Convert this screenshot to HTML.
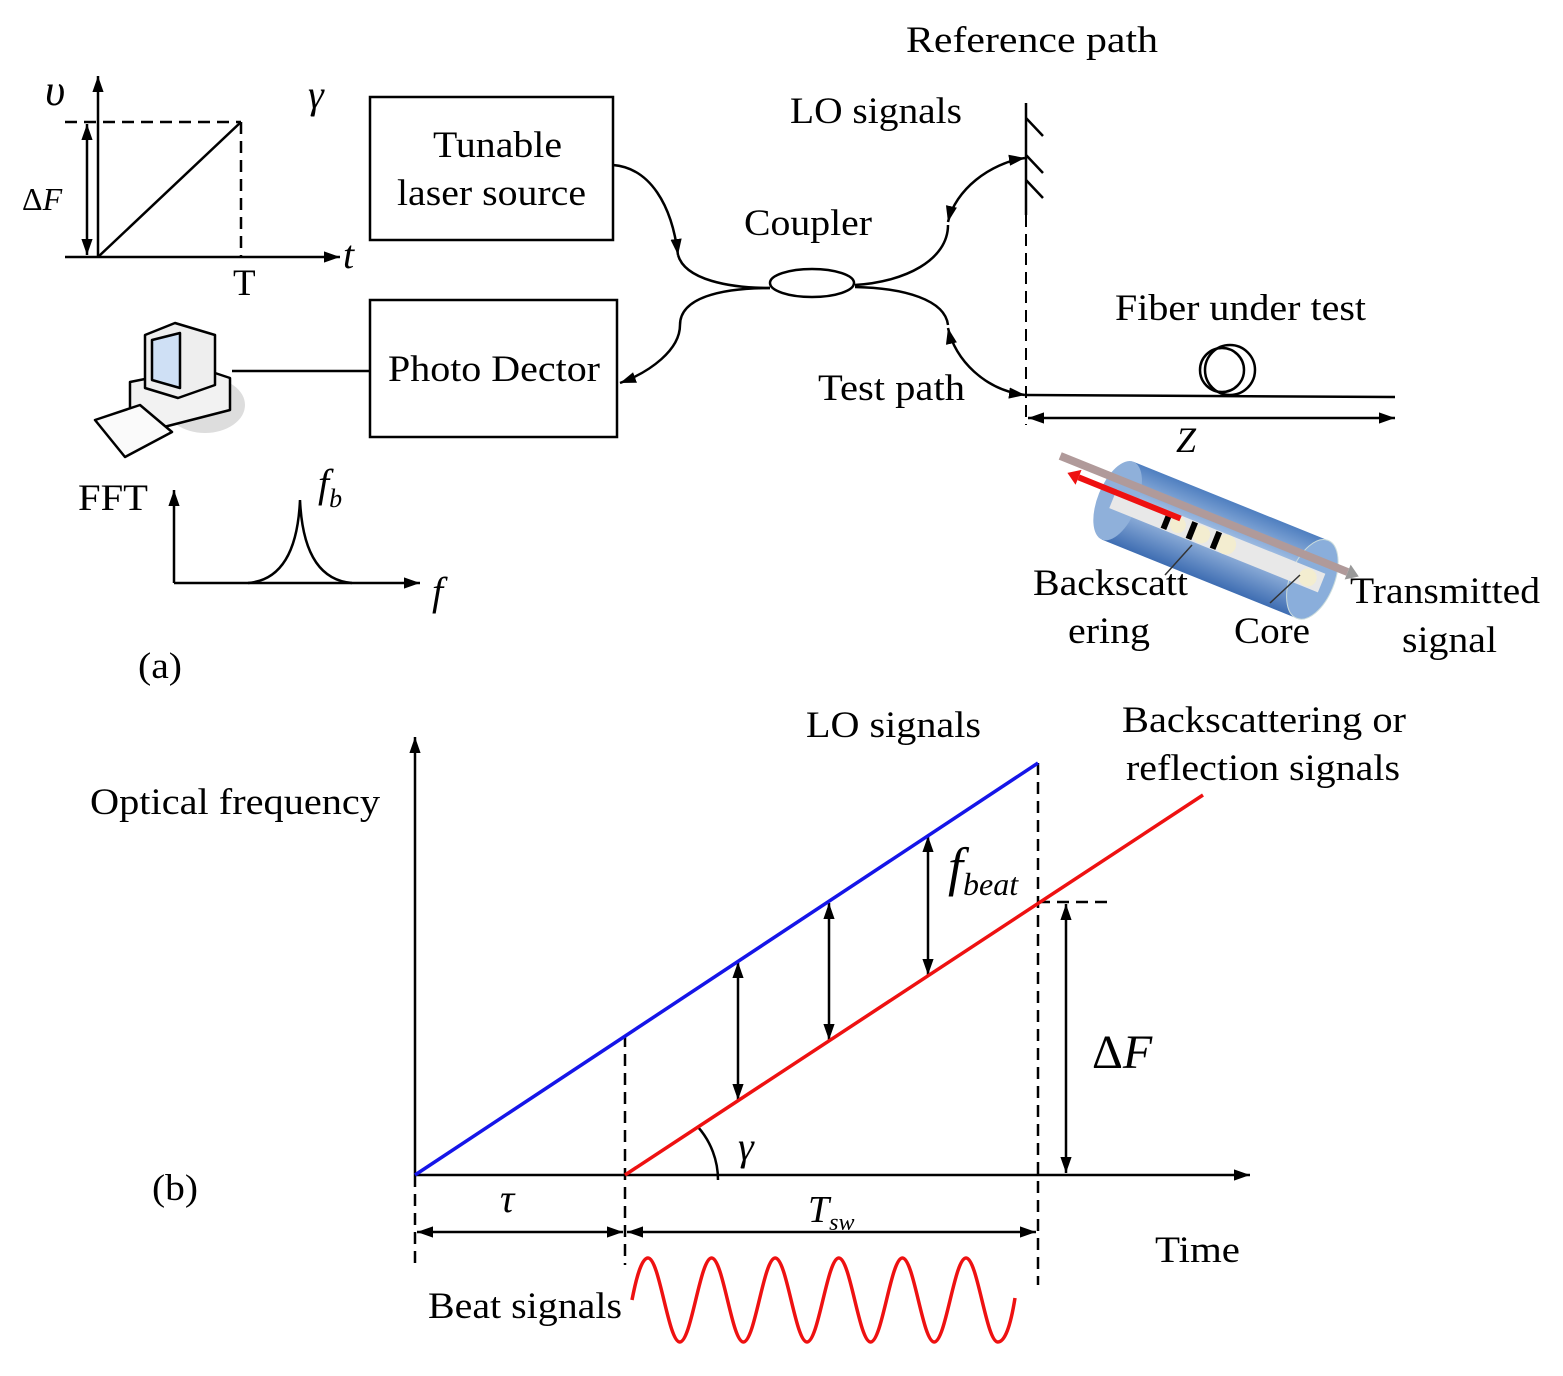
<!DOCTYPE html>
<html><head><meta charset="utf-8"><style>
html,body{margin:0;padding:0;background:#fff}
svg text{font-family:"Liberation Serif",serif;fill:#000}
</style></head><body>
<svg width="1563" height="1371" viewBox="0 0 1563 1371" xmlns="http://www.w3.org/2000/svg">
<defs>
<marker id="b" viewBox="0 0 10 10" refX="10" refY="5" markerWidth="16" markerHeight="16" orient="auto-start-reverse" markerUnits="userSpaceOnUse"><path d="M0,1.5 L10,5 L0,8.5 z" fill="#000"/></marker>
<linearGradient id="cyl" x1="0" y1="0" x2="0" y2="1"><stop offset="0" stop-color="#4f7fc0"/><stop offset="0.45" stop-color="#a9c4e6"/><stop offset="1" stop-color="#3e6db2"/></linearGradient>
</defs>
<g stroke="#000" stroke-width="2.5" fill="none">
<line x1="98" y1="257" x2="98" y2="76" marker-end="url(#b)"/>
<line x1="65" y1="257" x2="340" y2="257" marker-end="url(#b)"/>
<line x1="65" y1="122" x2="241" y2="122" stroke-dasharray="12,7"/>
<line x1="241" y1="122" x2="241" y2="257" stroke-dasharray="12,7"/>
<line x1="98" y1="257" x2="241" y2="122"/>
<line x1="87" y1="124" x2="87" y2="255" marker-start="url(#b)" marker-end="url(#b)"/>
<rect x="370" y="97" width="243" height="143"/>
<rect x="370" y="300" width="247" height="137"/>
<line x1="232" y1="371" x2="370" y2="371"/>
<ellipse cx="812" cy="283" rx="42" ry="14"/>
<path d="M613,165 C650,168 672,205 678,255" marker-end="url(#b)"/>
<path d="M678,255 C685,280 730,288 770,288"/>
<path d="M770,288 C720,288 680,298 680,325"/>
<path d="M680,325 C680,350 650,372 620,383" marker-end="url(#b)"/>
<path d="M855,285 C905,282 948,260 948,225"/>
<path d="M948,222 C955,190 990,163 1025,158" marker-start="url(#b)" marker-end="url(#b)"/>
<path d="M855,287 C905,288 945,300 948,325"/>
<path d="M948,328 C955,360 985,390 1025,395" marker-start="url(#b)" marker-end="url(#b)"/>
<line x1="1026" y1="103" x2="1026" y2="215"/>
<line x1="1026" y1="118" x2="1043" y2="136"/>
<line x1="1026" y1="155" x2="1043" y2="173"/>
<line x1="1026" y1="180" x2="1043" y2="198"/>
<line x1="1026" y1="215" x2="1026" y2="425" stroke-dasharray="12,7" stroke-width="2"/>
<line x1="1026" y1="395" x2="1395" y2="397"/>
<circle cx="1222" cy="370" r="22"/>
<circle cx="1230" cy="370" r="25"/>
<line x1="1028" y1="418" x2="1395" y2="418" marker-start="url(#b)" marker-end="url(#b)"/>
<line x1="174" y1="583" x2="174" y2="490" marker-end="url(#b)"/>
<line x1="174" y1="583" x2="420" y2="583" marker-end="url(#b)"/>
<path d="M248,583 C285,580 298,545 300,500 C302,545 315,580 352,583"/>
</g>
<g stroke="#000" stroke-width="2.5" stroke-linejoin="round">
<ellipse cx="205" cy="405" rx="40" ry="28" fill="#ddd" stroke="none"/>
<path d="M130,382 L200,368 L230,378 L230,410 L160,428 L130,415 z" fill="#f2f2f2"/>
<path d="M145,335 L175,323 L215,335 L215,385 L178,398 L145,388 z" fill="#eee"/>
<path d="M152,340 L180,333 L180,388 L152,380 z" fill="#cfe0f5"/>
<path d="M95,420 L140,405 L172,432 L125,457 z" fill="#fafafa"/>
</g>
<g transform="translate(1215,540) rotate(22)">
<rect x="-105" y="-42" width="210" height="84" fill="url(#cyl)"/>
<ellipse cx="-105" cy="0" rx="20" ry="42" fill="#8fb0da"/>
<ellipse cx="105" cy="0" rx="22" ry="42" fill="#8aaedb" stroke="#cdd" stroke-width="1"/>
<rect x="-110" y="-10" width="225" height="20" fill="#e8e8e8"/>
<circle cx="-40" cy="0" r="8" fill="#f3edd0"/><circle cx="-15" cy="0" r="9" fill="#f3edd0"/><circle cx="12" cy="0" r="10" fill="#f3edd0"/><circle cx="100" cy="0" r="9" fill="#f3edd0"/>
<rect x="-55" y="-9" width="6" height="18" fill="#000"/><rect x="-28" y="-9" width="6" height="18" fill="#000"/><rect x="-2" y="-9" width="6" height="18" fill="#000"/>
<rect x="-175" y="-24" width="310" height="8" fill="#b09a9a"/>
<polygon points="135,-28 147,-20 135,-12" fill="#999"/>
<rect x="-150" y="-10" width="110" height="6" fill="#ee1111"/>
<polygon points="-162,-7 -150,-15 -150,1" fill="#ee1111"/>
</g>
<line x1="1192" y1="545" x2="1165" y2="575" stroke="#333" stroke-width="1.5"/>
<line x1="1300" y1="575" x2="1270" y2="603" stroke="#333" stroke-width="1.5"/>
<g stroke="#000" stroke-width="2.5" fill="none">
<line x1="415" y1="1175" x2="415" y2="737" marker-end="url(#b)"/>
<line x1="415" y1="1175" x2="1250" y2="1175" marker-end="url(#b)"/>
<line x1="415" y1="1175" x2="415" y2="1265" stroke-dasharray="12,7"/>
<line x1="625" y1="1035" x2="625" y2="1265" stroke-dasharray="12,7"/>
<line x1="1038" y1="763" x2="1038" y2="1285" stroke-dasharray="12,7"/>
<line x1="1038" y1="902" x2="1110" y2="902" stroke-dasharray="12,7"/>
<line x1="1066" y1="904" x2="1066" y2="1173" marker-start="url(#b)" marker-end="url(#b)"/>
<line x1="738" y1="962" x2="738" y2="1100" marker-start="url(#b)" marker-end="url(#b)"/>
<line x1="829" y1="903" x2="829" y2="1040" marker-start="url(#b)" marker-end="url(#b)"/>
<line x1="928" y1="836" x2="928" y2="975" marker-start="url(#b)" marker-end="url(#b)"/>
<line x1="417" y1="1232" x2="623" y2="1232" marker-start="url(#b)" marker-end="url(#b)"/>
<line x1="627" y1="1232" x2="1036" y2="1232" marker-start="url(#b)" marker-end="url(#b)"/>
<path d="M698,1127 A80,80 0 0 1 718,1180"/>
</g>
<line x1="415" y1="1175" x2="1038" y2="763" stroke="#1515e8" stroke-width="3.5"/>
<line x1="625" y1="1175" x2="1203" y2="795" stroke="#ee1111" stroke-width="3.5"/>
<path d="M632,1300 Q640,1258 648,1258 C659.6,1258 668.2,1342 679.8,1342 S700,1258 711.6,1258 S731.8,1342 743.4,1342 S763.6,1258 775.2,1258 S795.4,1342 807,1342 S827.2,1258 838.8,1258 S859,1342 870.6,1342 S890.8,1258 902.4,1258 S922.6,1342 934.2,1342 S954.4,1258 966,1258 S986.2,1342 997.8,1342 Q1008,1342 1015,1298" stroke="#ee1111" stroke-width="3.5" fill="none"/>
<g font-size="37">
<text x="906" y="52" textLength="252" lengthAdjust="spacingAndGlyphs">Reference  path</text>
<text x="790" y="123" textLength="172" lengthAdjust="spacingAndGlyphs">LO signals</text>
<text x="744" y="235" textLength="128" lengthAdjust="spacingAndGlyphs">Coupler</text>
<text x="1115" y="320" textLength="251" lengthAdjust="spacingAndGlyphs">Fiber under test</text>
<text x="818" y="400" textLength="147" lengthAdjust="spacingAndGlyphs">Test path</text>
<text x="433" y="157" textLength="129" lengthAdjust="spacingAndGlyphs">Tunable</text>
<text x="397" y="205" textLength="189" lengthAdjust="spacingAndGlyphs">laser source</text>
<text x="388" y="381" textLength="212" lengthAdjust="spacingAndGlyphs">Photo Dector</text>
<text x="233" y="295">T</text>
<text x="78" y="510" textLength="70" lengthAdjust="spacingAndGlyphs">FFT</text>
<text x="138" y="678" textLength="44" lengthAdjust="spacingAndGlyphs">(a)</text>
<text x="1033" y="595" textLength="155" lengthAdjust="spacingAndGlyphs">Backscatt</text>
<text x="1068" y="643" textLength="82" lengthAdjust="spacingAndGlyphs">ering</text>
<text x="1234" y="643" textLength="76" lengthAdjust="spacingAndGlyphs">Core</text>
<text x="1350" y="603" textLength="190" lengthAdjust="spacingAndGlyphs">Transmitted</text>
<text x="1402" y="652" textLength="95" lengthAdjust="spacingAndGlyphs">signal</text>
<text x="806" y="737" textLength="175" lengthAdjust="spacingAndGlyphs">LO signals</text>
<text x="1122" y="732" textLength="284" lengthAdjust="spacingAndGlyphs">Backscattering or</text>
<text x="1126" y="780" textLength="274" lengthAdjust="spacingAndGlyphs">reflection signals</text>
<text x="90" y="814" textLength="290" lengthAdjust="spacingAndGlyphs">Optical frequency</text>
<text x="152" y="1200" textLength="46" lengthAdjust="spacingAndGlyphs">(b)</text>
<text x="1155" y="1262" textLength="85" lengthAdjust="spacingAndGlyphs">Time</text>
<text x="428" y="1318" textLength="194" lengthAdjust="spacingAndGlyphs">Beat signals</text>
</g>
<g font-style="italic">
<text x="45" y="105" font-size="44">υ</text>
<text x="22" y="210" font-size="32" font-style="normal">Δ<tspan font-style="italic">F</tspan></text>
<text x="308" y="108" font-size="40">γ</text>
<text x="343" y="268" font-size="40">t</text>
<text x="1176" y="452" font-size="36">Z</text>
<text x="318" y="497" font-size="40">f<tspan font-size="26" dy="10">b</tspan></text>
<text x="432" y="605" font-size="40">f</text>
<text x="948" y="885" font-size="54">f<tspan font-size="32" dy="10">beat</tspan></text>
<text x="1092" y="1068" font-size="48" font-style="normal">Δ<tspan font-style="italic">F</tspan></text>
<text x="738" y="1160" font-size="40">γ</text>
<text x="500" y="1212" font-size="40">τ</text>
<text x="808" y="1222" font-size="38">T<tspan font-size="24" dy="8">sw</tspan></text>
</g>
</svg>
</body></html>
